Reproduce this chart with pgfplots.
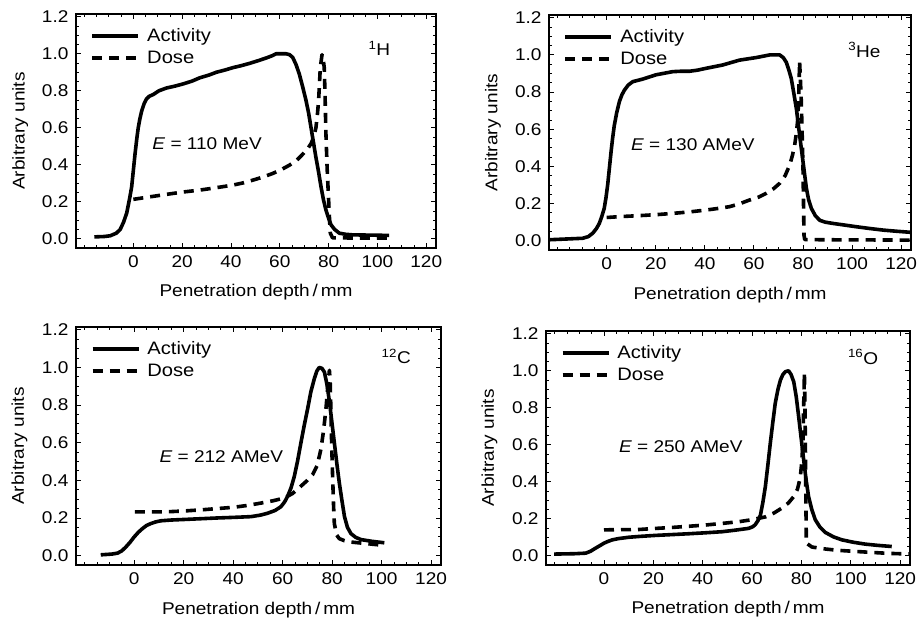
\documentclass[border=0pt]{standalone}
\usepackage{fontspec}
\setmainfont{Liberation Sans}[FakeStretch=1.12]
\usepackage{pgfplots}
\pgfplotsset{compat=1.18}
\tikzset{
 act/.style={black, line width=3.6pt, line join=round},
 dos/.style={black, line width=3.6pt, line join=round, dash pattern=on 10pt off 7pt},
 ann/.style={font=\fontsize{17}{20}\selectfont},
 iso/.style={font=\fontsize{17}{20}\selectfont},
}
\pgfplotsset{
 panel/.style={
  scale only axis,
  xmin=-23.5, xmax=124, ymin=-0.05, ymax=1.215,
  xtick={0,20,...,120}, ytick={0,0.2,...,1.2},
  minor xtick={-20,-15,...,120}, minor ytick={0,0.05,...,1.2},
  xticklabel pos=bottom, yticklabel pos=left,
  xtick pos=both, ytick pos=both,
  tick align=inside,
  major tick length=5pt, minor tick length=3pt,
  every tick/.style={black, line width=0.9pt},
  axis line style={line width=1.5pt},
  tick label style={font=\fontsize{17}{19}\selectfont},
  xticklabel style={yshift=-4pt},
  yticklabel style={xshift=-4pt},
  /pgf/number format/assume math mode=true,
  yticklabel style={/pgf/number format/.cd, fixed, fixed zerofill, precision=1},
  xlabel={Penetration depth\,/\,mm}, ylabel={Arbitrary units},
  label style={font=\fontsize{17}{20}\selectfont},
  xlabel style={at={(axis description cs:0.5,-0.19)}, anchor=center},
  ylabel style={at={(axis description cs:-0.155,0.5)}, anchor=center},
  legend style={draw=none, fill=none, at={(0.04,0.947)}, anchor=north west,
     font=\fontsize{18}{21}\selectfont, row sep=4pt, inner sep=0pt},
  legend cell align=left,
  legend image code/.code={\draw[##1] (0pt,0pt) -- (46pt,0pt); \path (51pt,0pt);},
 },
}
\begin{document}
\begin{tikzpicture}
\path[use as bounding box] (0,0) rectangle (918pt,620pt);
% ---------------- 1H
\begin{axis}[panel, at={(76pt,372pt)}, anchor=south west, width=360pt, height=234pt]
\addplot[act] coordinates {(-16,0.01) (-12,0.012) (-9.5,0.016) (-7,0.03) (-5.4,0.05) (-4,0.09) (-2.7,0.14) (-1.5,0.22) (-0.7,0.28) (0,0.37) (0.7,0.46) (1.4,0.54) (2,0.60) (2.7,0.65) (3.4,0.69) (4.4,0.73) (5.4,0.756) (6.5,0.77) (8.2,0.78) (10.5,0.80) (13.6,0.815) (17,0.825) (20.4,0.837) (24,0.852) (27.2,0.87) (31,0.885) (34,0.90) (37.5,0.912) (40.8,0.925) (44,0.935) (47.6,0.948) (51,0.962) (54.4,0.977) (57,0.99) (58.5,1.0) (62.6,1.0) (64,0.995) (65.3,0.98) (66.7,0.94) (68,0.89) (69.4,0.82) (70.7,0.75) (71.8,0.68) (72.8,0.60) (73.8,0.52) (74.8,0.44) (75.9,0.36) (76.9,0.28) (77.9,0.21) (78.9,0.156) (80,0.11) (81,0.075) (82.5,0.05) (84.4,0.03) (87,0.024) (89.8,0.021) (95,0.02) (100,0.019) (104.8,0.018)};
\addlegendentry{Activity}
\addplot[dos] coordinates {(0,0.213) (7,0.227) (13.6,0.24) (20,0.252) (27.2,0.263) (34,0.276) (40.8,0.29) (45,0.302) (49,0.317) (53,0.333) (57.1,0.353) (60.5,0.373) (64,0.398) (67,0.425) (69.4,0.457) (71.3,0.485) (72.8,0.514) (73.9,0.55) (74.8,0.60) (75.4,0.67) (75.9,0.747) (76.3,0.85) (76.6,0.926) (77.3,0.995) (77.8,0.97) (78.2,0.926) (78.5,0.80) (78.9,0.568) (79.4,0.38) (80,0.21) (80.4,0.10) (80.7,0.03) (81.6,0.005) (90,0.004) (104.8,0.004)};
\addlegendentry{Dose}
\node[ann] at (axis cs:30.2,0.516) {\textit{E} = 110 MeV};
\node[iso] at (axis cs:100.8,1.03) {\textsuperscript{1}H};
\end{axis}
% ---------------- 3He
\begin{axis}[panel, at={(549pt,370pt)}, anchor=south west, width=362pt, height=235pt]
\addplot[act] coordinates {(-23.7,0.005) (-15,0.01) (-9.8,0.013) (-7.5,0.022) (-5.7,0.04) (-4.2,0.065) (-3,0.093) (-2,0.13) (-1,0.174) (-0.3,0.23) (0.4,0.30) (1.1,0.39) (1.8,0.48) (2.4,0.55) (3.1,0.62) (4.1,0.69) (5.2,0.75) (6.2,0.785) (7.2,0.81) (8.8,0.838) (10.6,0.856) (14.7,0.87) (20.1,0.893) (26.9,0.91) (30,0.912) (33.7,0.912) (37,0.918) (40.5,0.928) (47.3,0.946) (54.1,0.972) (61,0.986) (66.4,1.0) (70.5,1.0) (72,0.985) (73.2,0.96) (74.2,0.92) (75.2,0.874) (76.3,0.79) (77.3,0.71) (78.6,0.57) (80,0.425) (81.4,0.28) (82.3,0.22) (83.4,0.174) (85,0.135) (86.8,0.11) (89,0.1) (92.2,0.093) (97,0.084) (101.8,0.075) (107,0.066) (112.7,0.057) (118,0.051) (124,0.045)};
\addlegendentry{Activity}
\addplot[dos] coordinates {(0,0.125) (6,0.13) (13.3,0.135) (20,0.14) (26.9,0.147) (33.7,0.155) (40.5,0.165) (45,0.173) (50,0.183) (54,0.198) (58.2,0.219) (62,0.235) (65,0.255) (68,0.28) (70.5,0.309) (72.7,0.35) (74.6,0.408) (75.7,0.46) (76.6,0.515) (77.3,0.58) (77.9,0.659) (78.3,0.8) (78.6,0.965) (78.9,0.88) (79.3,0.75) (79.7,0.55) (80,0.39) (80.2,0.2) (80.4,0.03) (80.7,0.006) (90,0.005) (110,0.004) (124,0.003)};
\addlegendentry{Dose}
\node[ann] at (axis cs:35.1,0.516) {\textit{E} = 130 AMeV};
\node[iso] at (axis cs:105,1.027) {\textsuperscript{3}He};
\end{axis}
% ---------------- 12C
\begin{axis}[panel, at={(76pt,55pt)}, anchor=south west, width=365pt, height=238pt]
\addplot[act] coordinates {(-13.5,0.004) (-9,0.008) (-6.7,0.013) (-5,0.025) (-3.4,0.045) (-1.7,0.07) (0,0.099) (1.7,0.124) (3.4,0.144) (5,0.16) (6.7,0.17) (8.7,0.179) (10.8,0.185) (15,0.189) (20.2,0.192) (27,0.196) (33.7,0.2) (40,0.203) (47.2,0.207) (51,0.215) (53.9,0.225) (57,0.24) (59.3,0.26) (60.8,0.285) (62,0.315) (63.4,0.36) (64.7,0.42) (66,0.50) (67.4,0.60) (68.7,0.69) (70.1,0.78) (71.4,0.87) (72.8,0.94) (73.8,0.98) (74.8,1.0) (75.9,0.995) (76.9,0.975) (77.9,0.91) (78.9,0.82) (79.9,0.71) (80.9,0.60) (81.9,0.49) (82.9,0.387) (84,0.29) (85,0.207) (86.2,0.15) (87.6,0.117) (89.5,0.097) (91.7,0.085) (96,0.076) (101.1,0.068)};
\addlegendentry{Activity}
\addplot[dos] coordinates {(0.3,0.232) (7,0.232) (13.5,0.233) (20,0.237) (27,0.243) (33.7,0.25) (40.4,0.257) (46,0.267) (51.2,0.279) (56,0.291) (60.7,0.306) (64,0.33) (67.4,0.369) (70,0.40) (72.1,0.43) (74,0.48) (75.5,0.567) (76.6,0.67) (77.5,0.78) (78.3,0.9) (78.9,0.985) (79.2,0.93) (79.5,0.78) (79.8,0.60) (80.2,0.42) (80.6,0.26) (80.9,0.17) (81.8,0.11) (82.9,0.09) (85,0.079) (87.6,0.072) (94.4,0.063) (101.1,0.054)};
\addlegendentry{Dose}
\node[ann] at (axis cs:35.2,0.527) {\textit{E} = 212 AMeV};
\node[iso] at (axis cs:105.9,1.06) {\textsuperscript{12}C};
\end{axis}
% ---------------- 16O
\begin{axis}[panel, at={(546pt,55pt)}, anchor=south west, width=364pt, height=234pt]
\addplot[act] coordinates {(-20.2,0.009) (-12,0.011) (-7.4,0.014) (-5.5,0.024) (-3.4,0.041) (-1.5,0.056) (0,0.068) (1.7,0.078) (3.4,0.086) (6,0.093) (10.1,0.1) (15,0.105) (20.9,0.11) (27,0.114) (34.4,0.119) (41,0.124) (47.9,0.13) (53,0.138) (58.6,0.148) (60.3,0.157) (61.3,0.168) (62.4,0.19) (63.4,0.22) (64.4,0.29) (65.4,0.375) (66.4,0.49) (67.4,0.61) (68.4,0.72) (69.4,0.825) (70.5,0.90) (71.5,0.95) (72.5,0.98) (73.5,0.995) (74.8,1.0) (75.8,0.98) (76.9,0.94) (77.9,0.86) (78.9,0.75) (79.9,0.635) (80.9,0.52) (81.9,0.41) (82.9,0.32) (84.2,0.25) (85.6,0.195) (87.5,0.155) (89.7,0.126) (93,0.102) (96.4,0.086) (101,0.073) (105.8,0.063) (111,0.056) (116.6,0.05)};
\addlegendentry{Activity}
\addplot[dos] coordinates {(0,0.14) (7,0.141) (14.2,0.142) (20,0.147) (27.6,0.153) (34,0.159) (41.1,0.166) (48,0.175) (54.6,0.184) (60,0.195) (65.4,0.21) (69,0.232) (72.1,0.258) (74.7,0.285) (76.9,0.32) (78.4,0.36) (79.5,0.42) (80.1,0.5) (80.6,0.61) (80.9,0.8) (81.2,0.985) (81.4,0.85) (81.6,0.61) (81.8,0.3) (82,0.068) (84.3,0.047) (90,0.036) (95.1,0.029) (101,0.024) (108.5,0.018) (115,0.013) (122,0.01) (124,0.009)};
\addlegendentry{Dose}
\node[ann] at (axis cs:31.1,0.59) {\textit{E} = 250 AMeV};
\node[iso] at (axis cs:105,1.075) {\textsuperscript{16}O};
\end{axis}
\end{tikzpicture}
\end{document}
